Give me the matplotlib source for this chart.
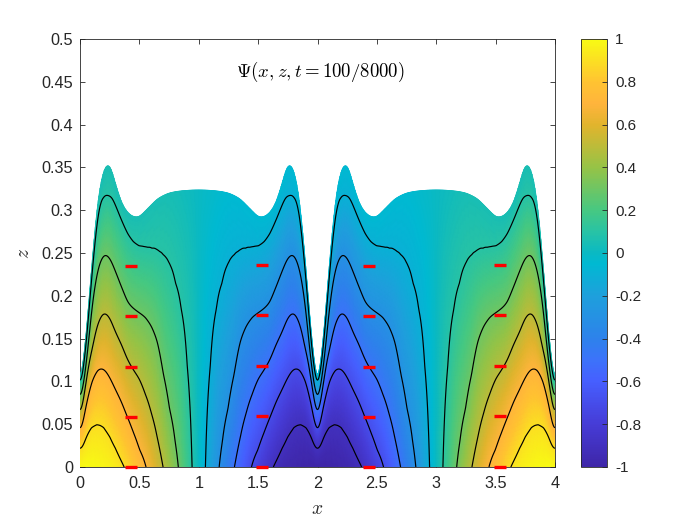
import numpy as np
import matplotlib
matplotlib.use("Agg")
import matplotlib.pyplot as plt
from matplotlib.colors import LinearSegmentedColormap

plt.rcParams['font.family'] = ['Liberation Sans', 'DejaVu Sans']
plt.rcParams['mathtext.fontset'] = 'cm'
plt.rcParams['axes.unicode_minus'] = False

# values, for x in [0, 1]; the rest of the domain is mirrored
x_half = [0, .05, .1, .15, .2, .25, .3, .35, .4, .45, .5, .55, .6, .65, .7, .75, .8, .85, .9, .95, 1]
surface = [.092, .148, .236, .312, .349, .355, .330, .308, .297, .292, .292, .299, .306, .313,
           .317, .320, .3215, .3225, .323, .3235, .3236]
psi_bottom = [1, 1, 1, .99, .98, .97, .95, .92, .875, .82, .765, .71, .64, .57, .5, .425, .345,
              .265, .175, .09, 0]
psi_top = [.05, .05, .05, .05, .05, .05, .05, .05, .05, .05, .05, .05, .05, .05, .05, .045, .04,
           .03, .02, .01, 0]

# height of each contour level in every x_half column, nan where the level has left the domain
nan = float('nan')
level_heights = {
    .9: [.018, .035, .048, .051, .048, .037, .022, .007] + [nan] * 13,
    .7: [.037, .072, .100, .114, .115, .105, .090, .076, .058, .040, .020] + [nan] * 10,
    .5: [.055, .098, .135, .168, .181, .175, .157, .143, .125, .113, .103, .085, .063, .035] + [nan] * 7,
    .3: [.072, .115, .187, .232, .249, .245, .228, .210, .192, .185, .180, .175, .165, .148, .108,
         .068, .030] + [nan] * 4,
    .1: [.086, .138, .225, .296, .316, .317, .305, .288, .272, .262, .257, .2555, .255, .252, .247,
         .238, .215, .185, .118] + [nan] * 2,
}

# red markers
marker_x = [.43, 1.533, 2.434, 3.537]
marker_z = [[.2344, .176, .117, .0588, 0], [.236, .177, .118, .059, 0],
            [.2344, .176, .117, .0588, 0], [.236, .177, .118, .059, 0]]

cbar_ticks = [-1, -.8, -.6, -.4, -.2, 0, .2, .4, .6, .8, 1]
x_ticks = [0, .5, 1, 1.5, 2, 2.5, 3, 3.5, 4]
z_ticks = [0, .05, .1, .15, .2, .25, .3, .35, .4, .45, .5]

cmap_stops = [(0, (62, 38, 168)), (.1, (70, 60, 215)), (.2, (70, 95, 255)), (.25, (60, 115, 250)),
              (.3, (45, 130, 235)), (.4, (30, 160, 220)), (.475, (0, 185, 210)), (.5, (10, 185, 195)),
              (.55, (40, 195, 165)), (.6, (70, 200, 130)), (.7, (150, 195, 70)), (.8, (225, 180, 45)),
              (.85, (255, 180, 60)), (.9, (255, 195, 50)), (1, (248, 250, 20))]
parula_like = LinearSegmentedColormap.from_list(
    'parula_like', [(p, tuple(c / 255 for c in rgb)) for p, rgb in cmap_stops])

s_nodes = np.linspace(0, 1, 61)
levels_down = sorted(level_heights, reverse=True)

# build Psi on the terrain following (x, s) grid, one column at a time
columns = []
for i in range(len(x_half)):
    zs, ps = [0.0], [psi_bottom[i]]
    for lev in levels_down:
        z = level_heights[lev][i]
        if not np.isnan(z):
            zs.append(z)
            ps.append(lev)
    zs.append(surface[i])
    ps.append(psi_top[i])
    columns.append(np.interp(s_nodes, np.array(zs) / surface[i], ps))
psi_half = np.array(columns).T

xh = np.array(x_half)
hh = np.array(surface)
x_0_2 = np.concatenate([xh, 2 - xh[-2::-1]])
h_0_2 = np.concatenate([hh, hh[-2::-1]])
psi_0_2 = np.hstack([psi_half, -psi_half[:, -2::-1]])

x_coarse = np.concatenate([x_0_2, 4 - x_0_2[-2::-1]])
h_coarse = np.concatenate([h_0_2, h_0_2[-2::-1]])
psi_coarse = np.hstack([psi_0_2, psi_0_2[:, -2::-1]])


def refine(values, x_old, x_new, width=9):
    """Resample one row onto the drawing grid and round off the kinks between read columns."""
    fine = np.interp(x_new, x_old, values)
    box = np.ones(width) / width
    for _ in range(2):
        padded = np.pad(fine, width // 2, mode='reflect')
        fine = np.convolve(padded, box, mode='valid')
    return fine


x_full = np.linspace(0, 4, 801)
h_full = refine(h_coarse, x_coarse, x_full)
psi_full = np.array([refine(row, x_coarse, x_full) for row in psi_coarse])

X = np.tile(x_full, (len(s_nodes), 1))
Z = np.outer(s_nodes, h_full)

fig = plt.figure(figsize=(7, 5.25), dpi=100)
ax = fig.add_axes([80 / 700, 58 / 525, 475 / 700, 428 / 525])
text_col = (.15, .15, .15)

mesh = ax.pcolormesh(X, Z, psi_full, shading='gouraud', cmap=parula_like, vmin=-1, vmax=1, zorder=3)
ax.contour(X, Z, psi_full, levels=[-.9, -.7, -.5, -.3, -.1, .1, .3, .5, .7, .9],
           colors='k', linewidths=.85, linestyles='solid', zorder=4)

for mx, mz in zip(marker_x, marker_z):
    ax.plot([mx] * len(mz), mz, linestyle='none', marker='_', color='r', markersize=8.8,
            markeredgewidth=2.4, clip_on=False, zorder=5)

ax.set_xlim(0, 4)
ax.set_ylim(0, .5)
ax.set_xticks(x_ticks, [f'{v:g}' for v in x_ticks])
ax.set_yticks(z_ticks, [f'{v:g}' for v in z_ticks])
ax.tick_params(direction='in', top=True, right=True, length=3.6, width=.6, labelsize=11.7,
               colors=text_col, pad=5, zorder=1)
ax.tick_params(axis='x', pad=6.5)
for sp in ax.spines.values():
    sp.set_linewidth(.6)
    sp.set_color(text_col)
    sp.set_zorder(1)

ax.set_xlabel('$x$', fontsize=14, color=text_col, labelpad=7)
ax.set_ylabel('$z$', fontsize=14, color=text_col, labelpad=6)
ax.text(2.02, .462, r'$\Psi(x,z,t=100/8000)$', fontsize=13.5, color='k', ha='center', va='center')

cax = fig.add_axes([581 / 700, 58 / 525, 26 / 700, 428 / 525])
cbar = fig.colorbar(mesh, cax=cax, ticks=cbar_ticks)
cbar.ax.set_yticklabels([f'{v:g}' for v in cbar_ticks])
cbar.ax.tick_params(direction='in', length=3.6, width=.6, labelsize=11, colors=text_col, pad=6)
cbar.outline.set_linewidth(.6)
cbar.outline.set_edgecolor(text_col)

fig.savefig('out.png', dpi=100)
